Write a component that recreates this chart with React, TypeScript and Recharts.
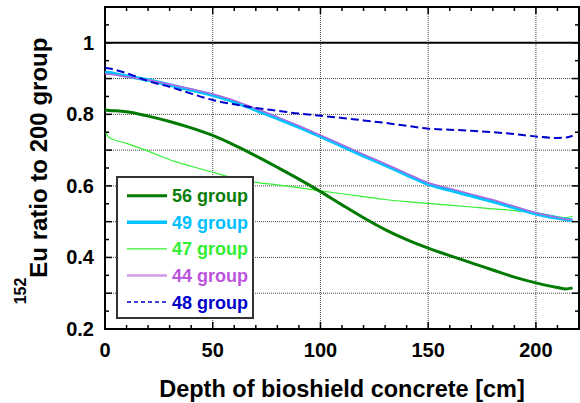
import * as React from "react"
import {
    Legend,
    Line,
    LineChart,
    ReferenceArea,
    ReferenceLine,
    XAxis,
    YAxis,
} from "recharts"

// depth into the bioshield concrete [cm]
const depth = [0, 2, 10, 20, 30, 40, 50, 60, 70, 80, 90, 100, 110, 120, 130, 140, 150, 160, 170, 180, 190, 200, 210, 214, 217]

// 152Eu ratio to the 200 group calculation
const g56 = [0.812, 0.811, 0.807, 0.795, 0.78, 0.762, 0.741, 0.714, 0.684, 0.652, 0.619, 0.584, 0.547, 0.511, 0.478, 0.45, 0.426, 0.405, 0.385, 0.365, 0.345, 0.329, 0.316, 0.312, 0.315]
const g49 = [0.918, 0.916, 0.907, 0.896, 0.882, 0.868, 0.853, 0.835, 0.812, 0.789, 0.764, 0.738, 0.711, 0.684, 0.658, 0.631, 0.605, 0.588, 0.572, 0.556, 0.539, 0.522, 0.51, 0.506, 0.504]
const g47 = [0.752, 0.735, 0.719, 0.697, 0.673, 0.655, 0.638, 0.622, 0.61, 0.603, 0.595, 0.586, 0.578, 0.57, 0.562, 0.556, 0.551, 0.546, 0.541, 0.536, 0.531, 0.525, 0.514, 0.511, 0.515]
const g44 = [0.913, 0.912, 0.905, 0.896, 0.884, 0.871, 0.857, 0.839, 0.816, 0.793, 0.768, 0.742, 0.715, 0.688, 0.662, 0.635, 0.609, 0.593, 0.577, 0.561, 0.543, 0.525, 0.512, 0.507, 0.505]
const g48 = [0.93, 0.928, 0.915, 0.893, 0.877, 0.858, 0.84, 0.828, 0.818, 0.81, 0.802, 0.796, 0.79, 0.783, 0.776, 0.768, 0.76, 0.757, 0.754, 0.75, 0.745, 0.738, 0.734, 0.735, 0.74]

const xTicks = [0, 10, 20, 30, 40, 50, 60, 70, 80, 90, 100, 110, 120, 130, 140, 150, 160, 170, 180, 190, 200, 210, 220]
const yTicks = [0.2, 0.25, 0.3, 0.35, 0.4, 0.45, 0.5, 0.55, 0.6, 0.65, 0.7, 0.75, 0.8, 0.85, 0.9, 0.95, 1, 1.05, 1.1]
const xGrid = [50, 100, 150, 200]
const yGrid = [0.3, 0.4, 0.5, 0.6, 0.7, 0.8, 0.9]

const FONT = "'Liberation Sans', Arial, Helvetica, sans-serif"
const W = 580
const H = 403
const PLOT_LEFT = 105
const PLOT_RIGHT = 579
const PLOT_TOP = 7

const series = [
    { key: "g56", name: "56 group", color: "#007a00", text: "#0a7d0a", legendWidth: 3, dash: false },
    { key: "g49", name: "49 group", color: "#00c4ff", text: "#00bfff", legendWidth: 3.5, dash: false },
    { key: "g47", name: "47 group", color: "#33f033", text: "#33ee33", legendWidth: 1.2, dash: false },
    { key: "g44", name: "44 group", color: "#d39be9", text: "#bb55dd", legendWidth: 2.5, dash: false },
    { key: "g48", name: "48 group", color: "#0000cc", text: "#0000cc", legendWidth: 1.5, dash: true },
]

const rows = depth.map((d, i) => ({
    depth: d,
    g56: g56[i],
    g49: g49[i],
    g47: g47[i],
    g44: g44[i],
    g48: g48[i],
}))

const isMult = (v: number, step: number) => Math.abs(v / step - Math.round(v / step)) < 1e-6

function XTick(props: any) {
    const { x, y, payload } = props
    const v = payload.value as number
    const major = isMult(v, 50)
    const len = major ? 7 : 4
    return (
        <g>
            <line x1={x} x2={x} y1={y} y2={y - len} stroke="#000" strokeWidth={1.5} />
            <line x1={x} x2={x} y1={PLOT_TOP} y2={PLOT_TOP + len} stroke="#000" strokeWidth={1.5} />
            {major ? (
                <text x={x} y={y + 28} textAnchor="middle" fontFamily={FONT} fontWeight="bold" fontSize={20} fill="#000">
                    {v}
                </text>
            ) : null}
        </g>
    )
}

function YTick(props: any) {
    const { x, y, payload } = props
    const v = payload.value as number
    const major = isMult(v, 0.1)
    const len = major ? 7 : 4
    const labelled = isMult(v, 0.2) && v <= 1.0001
    return (
        <g>
            <line x1={x} x2={x + len} y1={y} y2={y} stroke="#000" strokeWidth={1.5} />
            <line x1={PLOT_RIGHT} x2={PLOT_RIGHT - len} y1={y} y2={y} stroke="#000" strokeWidth={1.5} />
            {labelled ? (
                <text x={x - 11} y={y + 7} textAnchor="end" fontFamily={FONT} fontWeight="bold" fontSize={20} fill="#000">
                    {Math.abs(v - 1) < 1e-6 ? "1" : v.toFixed(1)}
                </text>
            ) : null}
        </g>
    )
}

function LegendBox() {
    return (
        <svg width={138} height={143} style={{ display: "block" }}>
            <rect x={1} y={1} width={136} height={141} fill="#fff" stroke="#333" strokeWidth={2} />
            {series.map((s, i) => {
                const cy = 19.7 + i * 26.6
                return (
                    <g key={s.key}>
                        <line
                            x1={11}
                            x2={51}
                            y1={cy}
                            y2={cy}
                            stroke={s.color}
                            strokeWidth={s.legendWidth}
                            strokeDasharray={s.dash ? "4 3" : undefined}
                        />
                        <text x={56} y={cy + 6.5} fontFamily={FONT} fontWeight="bold" fontSize={18} fill={s.text}>
                            {s.name}
                        </text>
                    </g>
                )
            })}
        </svg>
    )
}

export default function App() {
    return (
        <div style={{ position: "absolute", left: 0, top: 0, width: W, height: H, background: "#fff" }}>
            <LineChart width={W} height={H} data={rows} margin={{ top: PLOT_TOP, right: W - PLOT_RIGHT, bottom: 0, left: 0 }}>
                <XAxis
                    dataKey="depth"
                    type="number"
                    domain={[0, 220]}
                    ticks={xTicks}
                    interval={0}
                    allowDataOverflow
                    height={74}
                    axisLine={false}
                    tickLine={false}
                    tickSize={0}
                    tickMargin={0}
                    tick={<XTick />}
                    label={{
                        content: (p: any) => (
                            <text
                                x={p.viewBox.x + p.viewBox.width / 2}
                                y={p.viewBox.y + 68}
                                textAnchor="middle"
                                fontFamily={FONT}
                                fontWeight="bold"
                                fontSize={23.5}
                                fill="#000"
                            >
                                Depth of bioshield concrete [cm]
                            </text>
                        ),
                    }}
                />
                <YAxis
                    type="number"
                    domain={[0.2, 1.1]}
                    ticks={yTicks}
                    interval={0}
                    allowDataOverflow
                    width={PLOT_LEFT}
                    axisLine={false}
                    tickLine={false}
                    tickSize={0}
                    tickMargin={0}
                    tick={<YTick />}
                    label={{
                        content: () => (
                            <text
                                transform="translate(47,171) rotate(-90)"
                                textAnchor="middle"
                                fontFamily={FONT}
                                fontWeight="bold"
                                fill="#000"
                            >
                                <tspan fontSize={16} dy={-21}>152</tspan>
                                <tspan fontSize={24} dy={21}>Eu ratio to 200 group</tspan>
                            </text>
                        ),
                    }}
                />
                {yGrid.map((v) => (
                    <ReferenceLine key={"y" + v} y={v} stroke="#444" strokeWidth={1} strokeDasharray="1 1" />
                ))}
                {xGrid.map((v) => (
                    <ReferenceLine key={"x" + v} x={v} stroke="#444" strokeWidth={1} strokeDasharray="1 1" />
                ))}
                <ReferenceLine y={1} stroke="#000" strokeWidth={2} />
                <Line type="monotone" dataKey="g47" stroke="#33f033" strokeWidth={1.2} dot={false} isAnimationActive={false} />
                <Line type="monotone" dataKey="g56" stroke="#007a00" strokeWidth={3} dot={false} isAnimationActive={false} />
                <Line type="monotone" dataKey="g49" stroke="#00c4ff" strokeWidth={3.5} dot={false} isAnimationActive={false} />
                <Line type="monotone" dataKey="g44" stroke="#b466de" strokeWidth={1.5} dot={false} isAnimationActive={false} />
                <Line type="monotone" dataKey="g48" stroke="#0000cc" strokeWidth={2} strokeDasharray="8 4" dot={false} isAnimationActive={false} />
                <ReferenceArea x1={0} x2={220} y1={0.2} y2={1.1} fill="none" stroke="#000" strokeWidth={2} />
                <Legend
                    layout="vertical"
                    align="center"
                    verticalAlign="middle"
                    content={() => <LegendBox />}
                    wrapperStyle={{ position: "absolute", left: 116, top: 176, width: 138, height: 143 }}
                />
            </LineChart>
        </div>
    )
}
